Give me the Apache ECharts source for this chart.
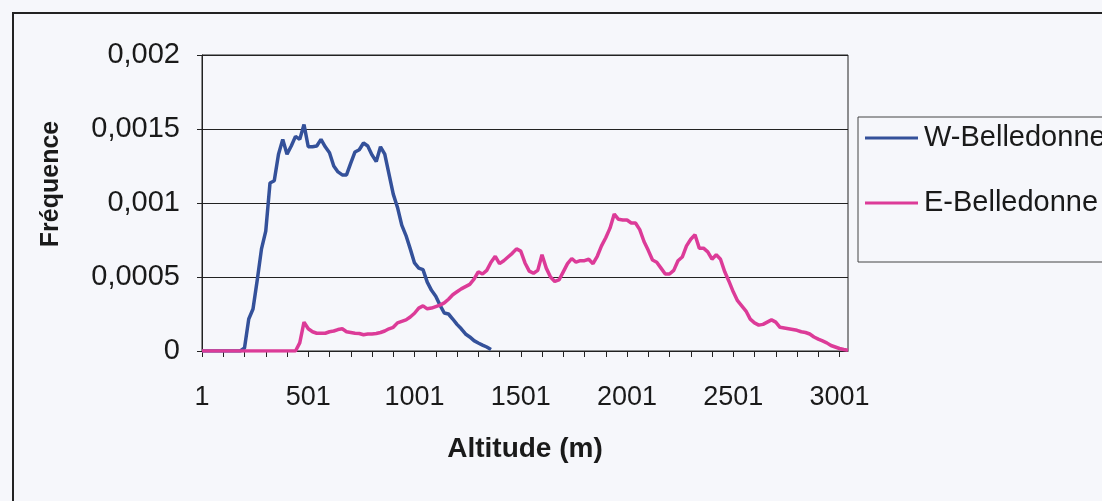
<!DOCTYPE html>
<html>
<head>
<meta charset="utf-8">
<script src="https://cdn.jsdelivr.net/npm/echarts@6/dist/echarts.min.js"></script>
<style>
html,body{margin:0;padding:0;background:#f6f7fb;}
#chart{width:1102px;height:501px;}
</style>
</head>
<body>
<div id="chart"></div>
<script>
// Altitude categories (m), every 20 m from 1 to 3041
const categories = Array.from({length: 153}, (_, i) => String(1 + 20 * i));
const yTicks = [0, 0.0005, 0.001, 0.0015, 0.002];
const seriesNames = ['W-Belledonne', 'E-Belledonne'];

const wBelledonne = [
  0,0,0,0,0,0,0,0,0,0,
  0.00002,0.000216,0.000284,0.00048,0.00069,0.00081,0.001135,0.00115,0.00133,0.00143,
  0.00133,0.001385,0.00145,0.00143,0.00153,0.00138,0.00138,0.001385,0.00143,0.00138,
  0.00134,0.00125,0.00121,0.00119,0.00119,0.00127,0.001345,0.00136,0.001405,0.001385,
  0.001325,0.00128,0.00138,0.00133,0.001195,0.00106,0.00097,0.00085,0.00078,0.00069,
  0.000595,0.00056,0.00055,0.000465,0.00041,0.00037,0.00031,0.000257,0.00025,0.000216,
  0.00018,0.00015,0.000115,0.000095,0.00007,0.000054,0.00004,0.000027,0.00001,
  null,null,null,null,null,null,null,null,null,null,null,null,null,null,null,null,null,null,null,null,
  null,null,null,null,null,null,null,null,null,null,null,null,null,null,null,null,null,null,null,null,
  null,null,null,null,null,null,null,null,null,null,null,null,null,null,null,null,null,null,null,null,
  null,null,null,null,null,null,null,null,null,null,null,null,null,null,null,null,null,null,null,null,
  null,null,null,null
];

const eBelledonne = [
  0,0,0,0,0,0,0,0,0,0,0,0,0,0,0,0,0,0,0,0,0,0,0,
  0.000055,0.000195,0.00015,0.00013,0.00012,0.00012,0.00012,
  0.00013,0.000135,0.000145,0.00015,0.00013,0.000125,0.00012,0.000118,0.00011,0.000115,
  0.000115,0.000118,0.000125,0.000135,0.00015,0.00016,0.00019,0.0002,0.00021,0.00023,
  0.000255,0.00029,0.000305,0.000285,0.00029,0.0003,0.00031,0.000325,0.00035,0.00038,
  0.0004,0.00042,0.000435,0.00045,0.000485,0.000535,0.00052,0.000545,0.0006,0.00064,
  0.00059,0.00061,0.000635,0.00066,0.00069,0.000675,0.000595,0.00054,0.000525,0.000545,
  0.00065,0.00056,0.0005,0.00047,0.00048,0.000535,0.00059,0.000625,0.0006,0.00061,
  0.00061,0.00062,0.00059,0.00064,0.00071,0.000765,0.00083,0.000925,0.00089,0.000885,
  0.000885,0.000865,0.000865,0.00082,0.00074,0.00068,0.000615,0.0006,0.00056,0.00052,
  0.00052,0.000545,0.00061,0.000635,0.00071,0.000755,0.000785,0.000695,0.000695,0.00067,
  0.00062,0.00065,0.00062,0.000535,0.00047,0.0004,0.00034,0.000305,0.00027,0.000215,
  0.00019,0.000175,0.00018,0.000195,0.00021,0.000195,0.00016,0.000155,0.00015,0.000145,
  0.00014,0.00013,0.000125,0.000115,0.000095,0.00008,0.000068,0.000055,0.000037,0.000027,
  0.000017,0.00001,0.000005
];

const chart = echarts.init(document.getElementById('chart'), null, {renderer: 'canvas'});
const FONT = 'Liberation Sans, Arial, sans-serif';
const option = {
  backgroundColor: '#f6f7fb',
  animation: false,
  textStyle: {fontFamily: FONT, color: '#1a1a1a'},
  graphic: [{
    type: 'rect', silent: true, z: -1,
    shape: {x: 13, y: 13, width: 1200, height: 600},
    style: {fill: 'none', stroke: '#222', lineWidth: 2}
  }],
  grid: {left: 202, right: 254, top: 55, bottom: 150, show: true, borderColor: '#222', borderWidth: 1, backgroundColor: 'transparent'},
  legend: {
    orient: 'vertical', left: 858, top: 117,
    data: seriesNames,
    icon: 'rect',
    itemWidth: 53, itemHeight: 3, itemGap: 35,
    padding: [6, 120, 44, 7],
    borderColor: '#444', borderWidth: 1,
    textStyle: {fontFamily: FONT, fontSize: 29, lineHeight: 30, color: '#1a1a1a', padding: [0, 0, 0, 1]}
  },
  xAxis: {
    type: 'category', data: categories, boundaryGap: false,
    name: 'Altitude (m)', nameLocation: 'middle', nameGap: 84,
    nameTextStyle: {fontFamily: FONT, fontSize: 28, fontWeight: 'bold', color: '#1a1a1a'},
    axisLine: {lineStyle: {color: '#222', width: 1}},
    axisTick: {show: true, length: 6, interval: (i) => i % 5 === 0, lineStyle: {color: '#222'}},
    axisLabel: {interval: (i) => i % 25 === 0, margin: 33, fontSize: 27, color: '#1a1a1a', fontFamily: FONT},
    splitLine: {show: false}
  },
  yAxis: {
    type: 'value', min: yTicks[0], max: yTicks[yTicks.length - 1], interval: 0.0005,
    name: 'Fréquence', nameLocation: 'middle', nameGap: 138, nameRotate: 90,
    nameTextStyle: {fontFamily: FONT, fontSize: 25, fontWeight: 'bold', color: '#1a1a1a', padding: [0, 0, 0, 38]},
    axisLine: {show: true, lineStyle: {color: '#222', width: 1}},
    axisTick: {show: true, length: 5, lineStyle: {color: '#222'}},
    axisLabel: {margin: 22, fontSize: 29, color: '#1a1a1a', fontFamily: FONT,
      formatter: (v) => String(v).replace('.', ',')},
    splitLine: {show: true, lineStyle: {color: '#222', width: 1}}
  },
  series: [
    {name: seriesNames[0], type: 'line', data: wBelledonne, symbol: 'none', connectNulls: false,
      lineStyle: {color: '#34519a', width: 3.5}, itemStyle: {color: '#34519a'}},
    {name: seriesNames[1], type: 'line', data: eBelledonne, symbol: 'none',
      lineStyle: {color: '#dc3b98', width: 3.5}, itemStyle: {color: '#dc3b98'}}
  ]
};
chart.setOption(option);
</script>
</body>
</html>
